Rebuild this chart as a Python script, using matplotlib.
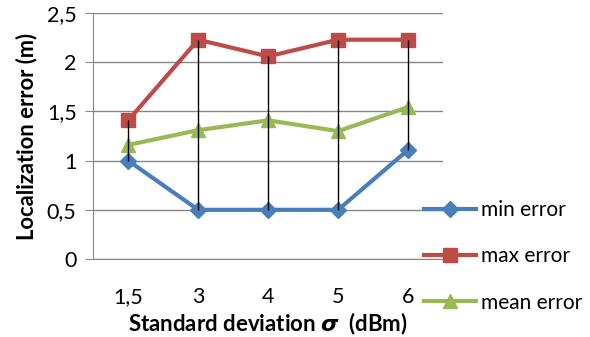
import matplotlib.pyplot as plt
import numpy as np

plt.rcParams['font.family'] = ['Lato', 'DejaVu Sans']
plt.rcParams['mathtext.fontset'] = 'dejavusans'

sigma_labels = ['1,5', '3', '4', '5', '6']
min_err = [1.0, 0.5, 0.5, 0.5, 1.11]
max_err = [1.41, 2.23, 2.06, 2.23, 2.23]
mean_err = [1.16, 1.31, 1.41, 1.30, 1.545]

x = np.arange(len(sigma_labels))

fig = plt.figure(figsize=(5.9, 3.37), dpi=100)
ax = fig.add_axes([0.158, 0.2315, 0.593, 0.7295])

ax.plot(x, min_err, color='#4A7EBB', lw=3, marker='D', ms=8, label='min error', zorder=3)
ax.plot(x, max_err, color='#BE4B48', lw=3, marker='s', ms=10, label='max error', zorder=3)
ax.plot(x, mean_err, color='#98B954', lw=3, marker='^', ms=10, label='mean error', zorder=3)
# high-low lines
ax.vlines(x, min_err, max_err, color='black', lw=1, zorder=4)

ax.set_xlim(-0.5, len(x) - 0.5)
ax.set_ylim(0, 2.5)
ax.set_yticks(np.arange(0, 2.51, 0.5))
ax.set_yticklabels(['0', '0,5', '1', '1,5', '2', '2,5'])
ax.set_xticks(x)
ax.set_xticklabels(sigma_labels)
ax.grid(axis='y', color='#868686', lw=1)
ax.set_axisbelow(True)
for s in ['top', 'right']:
    ax.spines[s].set_visible(False)
for s in ['left', 'bottom']:
    ax.spines[s].set_color('#868686')
ax.tick_params(axis='y', length=6, color='#868686', labelsize=15.5, pad=6)
ax.tick_params(axis='x', length=0, labelsize=15.5, pad=20)

ax.set_ylabel('Localization error (m)', fontsize=15.8, fontweight='bold', labelpad=7)
ax.set_xlabel(r'Standard deviation $\boldsymbol{\sigma}$  (dBm)', fontsize=16,
              fontweight='bold', labelpad=3)

fig.legend(loc='upper left', bbox_to_anchor=(0.705, 0.43), frameon=False,
           fontsize=15, handlelength=2.5, labelspacing=1.25, handletextpad=0.2,
           borderaxespad=0)

fig.savefig('out.png', dpi=100)
